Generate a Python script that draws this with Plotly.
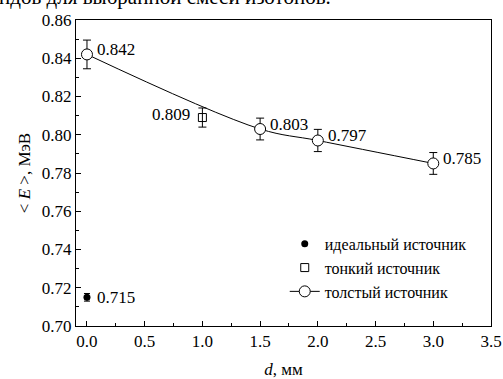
import plotly.graph_objects as go

# Mean energy <E> versus source thickness d
thick_d = [0.0, 1.5, 2.0, 3.0]
thick_e = [0.842, 0.803, 0.797, 0.785]
thick_err = [0.0075, 0.0057, 0.0058, 0.0057]

thin_d = [1.0]
thin_e = [0.809]
thin_err = [0.005]

ideal_d = [0.0]
ideal_e = [0.715]
ideal_err = [0.002]

x_ticks = [0.0, 0.5, 1.0, 1.5, 2.0, 2.5, 3.0, 3.5]
y_ticks = [0.70, 0.72, 0.74, 0.76, 0.78, 0.80, 0.82, 0.84, 0.86]

FONT = "serif"
BLACK = "black"

fig = go.Figure(layout=dict(template="none"))

fig.add_trace(go.Scatter(
    x=ideal_d, y=ideal_e, mode="markers", name="идеальный источник",
    marker=dict(symbol="circle", size=7, color=BLACK),
    error_y=dict(type="data", array=ideal_err, color=BLACK, thickness=1, width=3),
))
fig.add_trace(go.Scatter(
    x=thin_d, y=thin_e, mode="markers", name="тонкий источник",
    marker=dict(symbol="square-open", size=8, color=BLACK, line=dict(width=1)),
    error_y=dict(type="data", array=thin_err, color=BLACK, thickness=1, width=4),
))
fig.add_trace(go.Scatter(
    x=thick_d, y=thick_e, mode="lines+markers", name="толстый источник",
    line=dict(color=BLACK, width=1, shape="spline", smoothing=1.0),
    marker=dict(symbol="circle", size=11, color="white", line=dict(color=BLACK, width=1)),
    error_y=dict(type="data", array=thick_err, color=BLACK, thickness=1, width=4),
))

# value labels next to each point
labels = [(d, e, "left", 8, -5) for d, e in zip(thick_d, thick_e)]
labels += [(d, e, "right", -10, -3) for d, e in zip(thin_d, thin_e)]
labels += [(d, e, "left", 8, 0) for d, e in zip(ideal_d, ideal_e)]
for d, e, anchor, dx, dy in labels:
    fig.add_annotation(
        x=d, y=e, text=f"{e:.3f}", showarrow=False,
        xanchor=anchor, yanchor="middle", xshift=dx, yshift=-dy,
        font=dict(family=FONT, size=17, color=BLACK),
    )

# running text of the page above the figure
fig.add_annotation(
    xref="paper", yref="paper", x=-0.19, y=1.03, xanchor="left", yanchor="bottom",
    text="ндов для выбранной смеси изотопов.", showarrow=False,
    font=dict(family=FONT, size=21, color=BLACK),
)

axis_common = dict(
    showgrid=False, zeroline=False, showline=True, linecolor=BLACK, linewidth=1,
    mirror=True, ticks="inside", ticklen=5, tickwidth=1, tickcolor=BLACK,
    tickfont=dict(family=FONT, size=17, color=BLACK),
)

fig.update_layout(
    width=503, height=379,
    margin=dict(l=76, r=12, t=20, b=53, autoexpand=False),
    paper_bgcolor="white", plot_bgcolor="white",
    font=dict(family=FONT, color=BLACK),
    showlegend=True,
    legend=dict(
        x=0.503, y=0.056, xanchor="left", yanchor="bottom",
        bgcolor="rgba(0,0,0,0)", borderwidth=0,
        font=dict(family=FONT, size=16, color=BLACK),
        tracegroupgap=0, itemwidth=30,
    ),
    xaxis=dict(
        range=[-0.095, 3.5], tickvals=x_ticks, ticktext=[f"{v:.1f}" for v in x_ticks],
        minor=dict(ticks="inside", dtick=0.25, ticklen=3, tickcolor=BLACK),
        title=dict(text="<i>d</i>, мм", font=dict(family=FONT, size=17, color=BLACK), standoff=26),
        **axis_common,
    ),
    yaxis=dict(
        range=[0.70, 0.86], tickvals=y_ticks, ticktext=[f"{v:.2f}" for v in y_ticks],
        minor=dict(ticks="inside", dtick=0.01, ticklen=3, tickcolor=BLACK),
        title=dict(text="< <i>E</i> >, МэВ", font=dict(family=FONT, size=17, color=BLACK), standoff=6),
        **axis_common,
    ),
)

fig.write_html("out.html")
